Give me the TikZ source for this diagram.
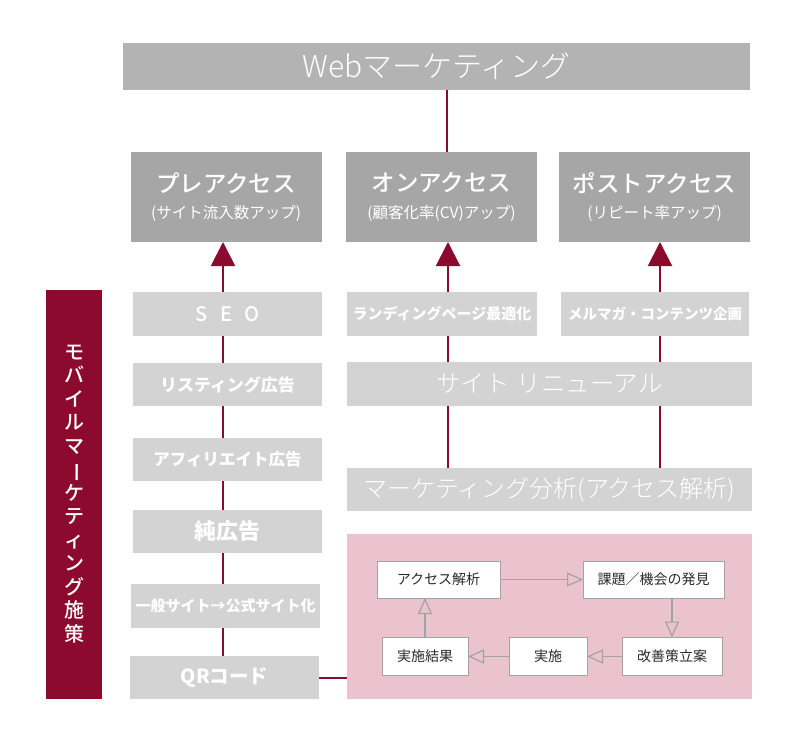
\documentclass[tikz,border=0pt]{standalone}
\usepackage{fontspec}
\setmainfont{Noto Sans CJK JP}
\newfontfamily\medfont{Noto Sans CJK JP Medium}
\newfontfamily\lightfont{Noto Sans CJK JP Light}
\usetikzlibrary{arrows.meta,backgrounds,calc}
\definecolor{webgray}{HTML}{B3B3B3}
\definecolor{accgray}{HTML}{A6A6A6}
\definecolor{lgray}{HTML}{D3D3D3}
\definecolor{maroon}{HTML}{8C0A2E}
\definecolor{pinkbg}{HTML}{EAC3CF}
\definecolor{inborder}{HTML}{A3A3A3}
\definecolor{intext}{HTML}{2A2A2A}
\newcommand{\fs}[1]{\fontsize{#1}{#1}\selectfont}
\begin{document}
\begin{tikzpicture}[x=1pt,y=-1pt,
  base/.style={inner sep=0pt, outer sep=0pt, text=white, align=center},
  webbox/.style={base, fill=webgray, minimum width=627pt, minimum height=47pt, font=\fs{30}\lightfont},
  accbox/.style={base, fill=accgray, minimum width=191pt, minimum height=90pt},
  lbox/.style={base, fill=lgray, minimum height=44pt},
  mobbox/.style={base, fill=maroon, minimum width=56pt, minimum height=409pt},
  pinkbox/.style={base, fill=pinkbg, minimum width=405pt, minimum height=165pt},
  inbox/.style={draw=inborder, line width=0.9pt, fill=white, text=intext, inner sep=0pt, outer sep=0pt, minimum height=38pt, font=\fs{14}},
  link/.style={draw=maroon, line width=2pt},
  uparr/.style={link, -{Triangle[width=24pt,length=24pt]}},
  openarr/.style={draw=inborder, line width=1.2pt, -{Triangle[open, width=14pt, length=16pt]}}
]
\useasboundingbox (0,0) rectangle (800,750);

% top
\node[webbox] (web) at (436.5,66.5) {Webマーケティング};

% access boxes
\node[accbox] (pre) at (226,197) {{\fs{23.5}\medfont プレアクセス}\\[11pt]{\fs{15.5}(サイト流入数アップ)}};
\node[accbox] (on) at (441.5,197) {{\fs{23.5}\medfont オンアクセス}\\[11pt]{\fs{15.5}(顧客化率(CV)アップ)}};
\node[accbox] (post) at (654.5,197) {{\fs{23.5}\medfont ポストアクセス}\\[11pt]{\fs{15.5}(リピート率アップ)}};

% left column
\node[lbox, minimum width=189pt, font=\fs{20}\medfont] (seo) at (227.5,314) {S\hspace{12pt}E\hspace{12pt}O};
\node[lbox, minimum width=189pt, minimum height=43pt, font=\fs{17}\bfseries] (list) at (227.5,384.5) {リスティング広告};
\node[lbox, minimum width=189pt, minimum height=43pt, font=\fs{16.5}\bfseries] (aff) at (227.5,459.5) {アフィリエイト広告};
\node[lbox, minimum width=189pt, minimum height=43pt, font=\fs{22}\bfseries] (pure) at (227.5,531.5) {純広告};
\node[lbox, minimum width=189pt, font=\fs{15}\bfseries] (gen) at (225.5,606) {一般サイト→公式サイト化};
\node[lbox, minimum width=189pt, minimum height=43pt, font=\fs{19.5}\bfseries] (qr) at (224.5,677.5) {QRコード};

% right columns
\node[lbox, minimum width=190pt, font=\fs{15}\bfseries] (lp) at (442,314) {ランディングページ最適化};
\node[lbox, minimum width=188pt, font=\fs{14.5}\bfseries] (mm) at (655,314) {メルマガ・コンテンツ企画};
\node[lbox, minimum width=405pt, font=\fs{24.5}\lightfont] (renew) at (549.5,384) {サイト\hspace{7pt}リニューアル};
\node[lbox, minimum width=405pt, minimum height=43pt, font=\fs{24}\lightfont] (ma) at (549.5,489.5) {マーケティング分析(アクセス解析)};

% pink cycle
\node[pinkbox] (pink) at (549.5,616.5) {};
\node[inbox, minimum width=123pt, minimum height=37pt] (aa) at (438.5,579.5) {アクセス解析};
\node[inbox, minimum width=141pt, minimum height=37pt] (kd) at (653.5,579.5) {課題／機会の発見};
\node[inbox, minimum width=100pt] (kz) at (672,656.5) {改善策立案};
\node[inbox, minimum width=78pt] (jis) at (548,656.5) {実施};
\node[inbox, minimum width=86pt] (jk) at (425,656.5) {実施結果};

\draw[openarr] (aa.east) -- (kd.west);
\draw[openarr] (kd.south -| kz.north) -- (kz.north);
\draw[openarr] (kz.west) -- (jis.east);
\draw[openarr] (jis.west) -- (jk.east);
\draw[openarr] (jk.north) -- (jk.north |- aa.south);

% mobile
\node[mobbox, font=\fontsize{20}{23.5}\selectfont\medfont] (mob) at (74,494) {モ\\バ\\イ\\ル\\マ\\\rotatebox[origin=c]{-90}{ー}\\ケ\\テ\\ィ\\ン\\グ\\施\\策};

% maroon connectors
\coordinate (cx) at (447,0);
\coordinate (px) at (223,0);
\coordinate (ox) at (448,0);
\coordinate (sx) at (660,0);
\begin{pgfonlayer}{background}
\fill[white] (0,0) rectangle (800,750);
\draw[link] (web.south -| cx) -- (on.north -| cx);
\draw[uparr] (qr.north -| px) -- (pre.south -| px);
\draw[uparr] (ma.north -| ox) -- (on.south -| ox);
\draw[uparr] (ma.north -| sx) -- (post.south -| sx);
\end{pgfonlayer}
\draw[link] (qr.east) -- (qr.east -| pink.west);
\end{tikzpicture}
\end{document}
